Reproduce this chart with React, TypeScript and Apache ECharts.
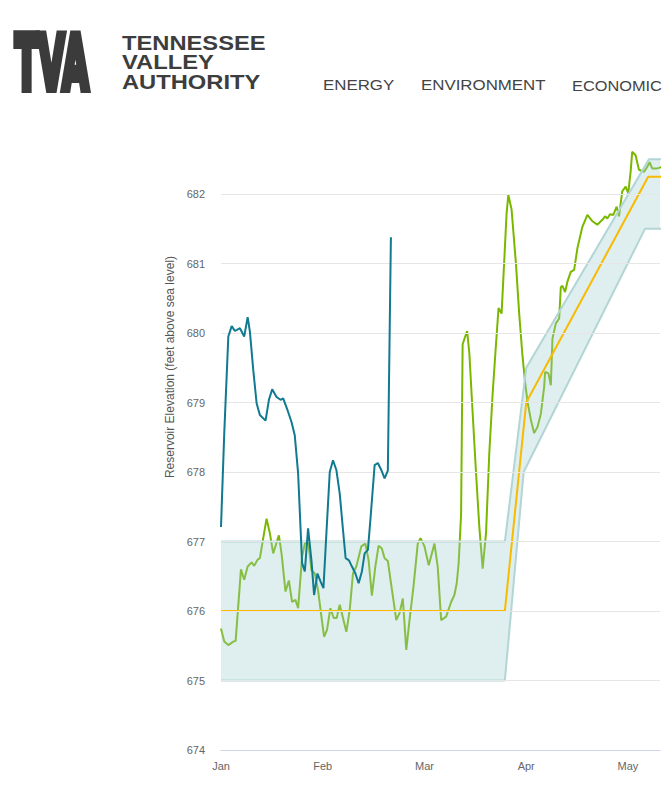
import React, { useEffect, useRef } from 'react';
import * as echarts from 'echarts';

// x values: months elapsed since Jan 1 (0 = Jan, 1 = Feb, ...), equal month spacing as in the reference
const monthLabels = ['Jan', 'Feb', 'Mar', 'Apr', 'May', 'Jun'];
const gridValues = [675, 676, 677, 678, 679, 680, 681, 682];
const navItems = ['ENERGY', 'ENVIRONMENT', 'ECONOMIC'];
const logoWords = ['TENNESSEE', 'VALLEY', 'AUTHORITY'];
const yTitle = 'Reservoir Elevation (feet above sea level)';

const observedPrev: [number, number][] = [
  [0.000, 675.75], [0.032, 675.56], [0.072, 675.51], [0.121, 675.56], [0.144, 675.57], [0.196, 676.60],
  [0.228, 676.45], [0.262, 676.64], [0.301, 676.70], [0.326, 676.65], [0.360, 676.74], [0.382, 676.76],
  [0.415, 677.05], [0.448, 677.33], [0.480, 677.12], [0.513, 676.83], [0.569, 677.09], [0.595, 676.83],
  [0.634, 676.28], [0.667, 676.44], [0.699, 676.13], [0.732, 676.16], [0.758, 676.04], [0.797, 676.78],
  [0.824, 676.97], [0.856, 677.02], [0.889, 676.59], [0.922, 676.54], [0.954, 676.30], [0.987, 675.92],
  [1.013, 675.63], [1.042, 675.73], [1.075, 676.04], [1.108, 675.90], [1.137, 675.90], [1.167, 676.09],
  [1.199, 675.90], [1.232, 675.70], [1.265, 676.01], [1.297, 676.54], [1.330, 676.64], [1.379, 676.93],
  [1.419, 676.97], [1.451, 676.73], [1.483, 676.22], [1.517, 676.64], [1.549, 676.94], [1.581, 676.90],
  [1.608, 676.76], [1.640, 676.72], [1.674, 676.37], [1.723, 675.87], [1.755, 675.97], [1.787, 676.18],
  [1.821, 675.44], [1.853, 675.87], [1.892, 676.35], [1.934, 676.97], [1.961, 677.05], [2.000, 676.93],
  [2.042, 676.66], [2.098, 676.97], [2.130, 676.64], [2.164, 675.87], [2.213, 675.92], [2.262, 676.13],
  [2.294, 676.23], [2.317, 676.40], [2.336, 676.69], [2.360, 677.40], [2.375, 679.84], [2.419, 680.03],
  [2.441, 679.71], [2.474, 678.84], [2.507, 677.98], [2.539, 677.21], [2.572, 676.61], [2.605, 677.12],
  [2.637, 678.27], [2.670, 679.13], [2.703, 679.84], [2.728, 680.36], [2.758, 680.28], [2.784, 681.04],
  [2.807, 681.72], [2.824, 681.99], [2.856, 681.78], [2.899, 681.00], [2.931, 680.28], [2.964, 679.66],
  [2.990, 679.28], [3.013, 679.01], [3.046, 678.75], [3.078, 678.56], [3.111, 678.65], [3.144, 678.84],
  [3.176, 679.22], [3.186, 679.44], [3.219, 679.42], [3.242, 679.25], [3.258, 679.92], [3.291, 680.14],
  [3.324, 680.21], [3.340, 680.66], [3.356, 680.68], [3.382, 680.59], [3.405, 680.74], [3.438, 680.88],
  [3.471, 680.91], [3.503, 681.22], [3.552, 681.53], [3.601, 681.70], [3.650, 681.61], [3.699, 681.56],
  [3.748, 681.63], [3.775, 681.68], [3.797, 681.65], [3.824, 681.71], [3.856, 681.70], [3.889, 681.82],
  [3.912, 681.68], [3.944, 682.04], [3.978, 682.11], [4.003, 682.01], [4.026, 682.32], [4.042, 682.61],
  [4.075, 682.56], [4.108, 682.35], [4.157, 682.32], [4.189, 682.39], [4.213, 682.46], [4.238, 682.37],
  [4.287, 682.37], [4.333, 682.39],
];

const observedCurrent: [number, number][] = [
  [0.000, 677.21], [0.032, 678.56], [0.072, 679.95], [0.105, 680.10], [0.137, 680.03], [0.186, 680.07],
  [0.228, 679.95], [0.262, 680.23], [0.284, 680.02], [0.317, 679.47], [0.350, 678.99], [0.382, 678.82],
  [0.438, 678.74], [0.471, 679.04], [0.503, 679.19], [0.546, 679.08], [0.585, 679.04], [0.611, 679.06],
  [0.654, 678.89], [0.693, 678.72], [0.725, 678.53], [0.758, 677.98], [0.784, 677.12], [0.797, 676.69],
  [0.824, 676.57], [0.856, 677.19], [0.889, 676.73], [0.915, 676.23], [0.948, 676.54], [0.980, 676.42],
  [1.007, 676.33], [1.036, 677.12], [1.069, 678.00], [1.101, 678.17], [1.134, 678.03], [1.167, 677.69],
  [1.199, 677.17], [1.225, 676.76], [1.258, 676.73], [1.287, 676.64], [1.321, 676.54], [1.353, 676.40],
  [1.385, 676.57], [1.412, 676.83], [1.444, 676.88], [1.471, 677.36], [1.510, 678.10], [1.542, 678.13],
  [1.575, 678.03], [1.608, 677.91], [1.640, 678.02], [1.670, 681.38],
];

const guideLower: [number, number][] = [[0, 675], [2.79, 675], [2.975, 678.0], [4.167, 681.5], [4.34, 681.5]];
const guideUpper: [number, number][] = [[0, 677], [2.79, 677], [3.0, 679.5], [4.206, 682.5], [4.34, 682.5]];
const guideTarget: [number, number][] = [[0, 676], [2.79, 676], [3.0, 679.0], [4.199, 682.25], [4.34, 682.25]];

const FONT = '"Liberation Sans", Arial, sans-serif';

function buildOption(): any {
  const txt = (text: string, x: number, y: number, font: string, fill: string, extra: any = {}) => ({
    type: 'text',
    x,
    y,
    silent: true,
    ...extra,
    style: { text, font, fill, align: 'left', verticalAlign: 'middle', ...(extra.style || {}) },
  });

  const navX = [323, 421, 572];
  const navScale = [1.125, 1.125, 1.09];
  const logoY = [42.7, 62.3, 81.5];

  const graphics: any[] = [
    txt('TVA', 15, 63.5, 'bold 74px "DejaVu Sans"', '#3b3b3b', {
      scaleX: 0.46,
      style: { stroke: '#3b3b3b', lineWidth: 8, lineJoin: 'miter' },
    }),
    ...logoWords.map((w, i) => txt(w, 122, logoY[i], `bold 21px ${FONT}`, '#3d3d3d', { scaleX: 1.13 })),
    ...navItems.map((w, i) => txt(w, navX[i], 85.3, `15px ${FONT}`, '#444444', { scaleX: navScale[i] })),
    {
      type: 'text',
      x: 170,
      y: 367,
      rotation: Math.PI / 2,
      silent: true,
      style: { text: yTitle, font: `12px ${FONT}`, fill: '#555555', align: 'center', verticalAlign: 'middle' },
    },
  ];

  const lineBase = {
    type: 'line',
    showSymbol: false,
    symbol: 'none',
    silent: true,
    animation: false,
  };

  return {
    animation: false,
    backgroundColor: '#ffffff',
    grid: { left: 221, right: 0, top: 142, bottom: 59, containLabel: false },
    xAxis: {
      type: 'value',
      min: 0,
      max: 4.315,
      interval: 1,
      axisLine: { show: true, lineStyle: { color: '#ccd6eb', width: 1 } },
      axisTick: { show: false },
      splitLine: { show: false },
      axisLabel: {
        margin: 10,
        color: '#666666',
        fontSize: 11,
        fontFamily: FONT,
        formatter: (v: number) => (Number.isInteger(v) ? monthLabels[v] : ''),
      },
    },
    yAxis: {
      type: 'value',
      min: 674,
      max: 682.75,
      interval: 1,
      axisLine: { show: false },
      axisTick: { show: false },
      splitLine: { show: false },
      axisLabel: {
        margin: 16,
        color: '#666666',
        fontSize: 11,
        fontFamily: FONT,
        formatter: (v: number) => (Number.isInteger(v) ? String(v) : ''),
      },
    },
    graphic: graphics,
    series: [
      {
        ...lineBase,
        name: 'grid',
        z: 1,
        data: [[0, 674]],
        lineStyle: { width: 0, opacity: 0 },
        markLine: {
          silent: true,
          symbol: ['none', 'none'],
          label: { show: false },
          lineStyle: { color: '#e6e6e6', width: 1, type: 'solid' },
          data: gridValues.map((v) => ({ yAxis: v })),
        },
      },
      {
        ...lineBase,
        name: 'Previous year',
        z: 2,
        data: observedPrev,
        lineStyle: { color: '#7ab800', width: 2 },
      },
      {
        type: 'custom',
        name: 'Operating range',
        z: 3,
        silent: true,
        clip: true,
        data: [[0, 675]],
        renderItem: (_params: any, api: any) => {
          const pts = guideUpper
            .map((p) => api.coord(p))
            .concat(guideLower.slice().reverse().map((p) => api.coord(p)));
          return {
            type: 'polygon',
            shape: { points: pts },
            style: { fill: 'rgba(160, 204, 204, 0.34)', stroke: 'none' },
          };
        },
      },
      {
        ...lineBase,
        name: 'Range low',
        z: 3,
        data: guideLower,
        lineStyle: { color: '#b2d5d5', width: 2 },
      },
      {
        ...lineBase,
        name: 'Range high',
        z: 3,
        data: guideUpper,
        lineStyle: { color: '#b2d5d5', width: 2 },
      },
      {
        ...lineBase,
        name: 'Flood guide',
        z: 4,
        data: guideTarget,
        lineStyle: { color: '#f8bb00', width: 2 },
      },
      {
        ...lineBase,
        name: 'Observed',
        z: 5,
        data: observedCurrent,
        lineStyle: { color: '#0f7a90', width: 2 },
      },
    ],
  };
}

export default function App() {
  const ref = useRef<HTMLDivElement>(null);
  useEffect(() => {
    if (!ref.current) return;
    const chart = echarts.init(ref.current, null, { renderer: 'svg' });
    chart.setOption(buildOption());
    return () => chart.dispose();
  }, []);
  return (
    <div
      ref={ref}
      style={{ position: 'absolute', left: 0, top: 0, width: 663, height: 809, background: '#ffffff', overflow: 'hidden' }}
    />
  );
}
